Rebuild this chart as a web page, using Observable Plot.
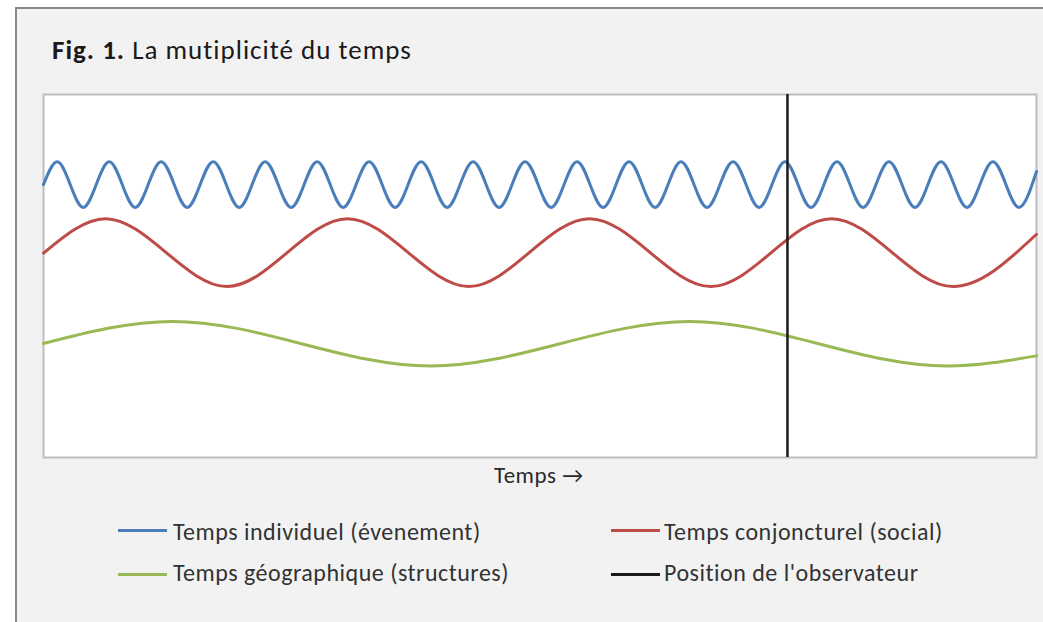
<!DOCTYPE html>
<html>
<head>
<meta charset="utf-8">
<script src="https://cdn.jsdelivr.net/npm/d3@7"></script>
<script src="https://cdn.jsdelivr.net/npm/@observablehq/plot@0.6"></script>
<style>
  body { margin: 0; background: #fff; }
  #wrap { position: relative; width: 1043px; height: 622px; overflow: hidden;
          font-family: Carlito, Lato, "Open Sans", sans-serif; }
  #panel { position: absolute; left: 15px; top: 7px; width: 1040px; height: 620px;
           background: #f2f2f2; border-left: 2px solid #8a8a8a; border-top: 2px solid #8a8a8a; }
  #chart { position: absolute; left: 0; top: 0; }
  .txt { position: absolute; white-space: nowrap; line-height: 1; }
  #title { left: 52px; top: 36px; font-size: 27px; letter-spacing: 1px; color: #1a1a1a; }
  #xlabel { left: 494px; top: 464px; font-size: 23px; letter-spacing: 0.5px; color: #2a2a2a; }
  .leg { font-size: 24px; letter-spacing: 0.5px; color: #333; }
  .sw { position: absolute; height: 3px; width: 49px; }
</style>
</head>
<body>
<div id="wrap">
  <div id="panel"></div>
  <div id="chart"></div>
  <div id="title" class="txt"><b>Fig. 1.</b> La mutiplicité du temps</div>
  <div id="xlabel" class="txt">Temps →</div>
  <div id="legend"></div>
</div>
<script>
// ---- Data (time in arbitrary units 0–100, value in arbitrary units 0–100) ----
const seriesNames = [
  "Temps individuel (évenement)",
  "Temps conjoncturel (social)",
  "Temps géographique (structures)",
  "Position de l'observateur"
];
const seriesColors = ["#4a7ebb", "#be4b48", "#98b954", "#1a1a1a"];

// Temps individuel: extrema
const blueT = [0, 1.38, 4.00, 6.62, 9.24, 11.85, 14.47, 17.09, 19.71, 22.32, 24.94,
  27.56, 30.18, 32.79, 35.41, 38.03, 40.65, 43.26, 45.88, 48.50, 51.12,
  53.73, 56.35, 58.97, 61.59, 64.20, 66.82, 69.44, 72.06, 74.67, 77.29,
  79.91, 82.53, 85.14, 87.76, 90.38, 93.00, 95.61, 98.23, 100];
const blueV = [75.2, 81.5, 68.9, 81.5, 68.9, 81.5, 68.9, 81.5, 68.9, 81.5, 68.9,
  81.5, 68.9, 81.5, 68.9, 81.5, 68.9, 81.5, 68.9, 81.5, 68.9,
  81.5, 68.9, 81.5, 68.9, 81.5, 68.9, 81.5, 68.9, 81.5, 68.9,
  81.5, 68.9, 81.5, 68.9, 81.5, 68.9, 81.5, 68.9, 78.8];

// Temps conjoncturel
const redT = [0, 6.24, 18.48, 30.61, 42.85, 54.98, 67.22, 79.36, 91.59, 100];
const redV = [56.3, 65.8, 47.1, 65.8, 47.1, 65.8, 47.1, 65.8, 47.1, 61.5];

// Temps géographique
const greenT = [0, 12.99, 38.97, 65.06, 91.04, 100];
const greenV = [31.4, 37.5, 25.2, 37.5, 25.2, 28.0];

// Position de l'observateur
const observerT = [74.92];

// ---- Build table ----
const lines = [
  ...blueT.map((t, i) => ({t, v: blueV[i], s: seriesNames[0]})),
  ...redT.map((t, i) => ({t, v: redV[i], s: seriesNames[1]})),
  ...greenT.map((t, i) => ({t, v: greenV[i], s: seriesNames[2]}))
];

const plot = Plot.plot({
  width: 1043,
  height: 622,
  marginLeft: 43,
  marginRight: 7,
  marginTop: 94,
  marginBottom: 165,
  style: { background: "transparent", overflow: "visible" },
  x: { domain: [0, 100], axis: null },
  y: { domain: [0, 100], axis: null },
  color: { domain: seriesNames, range: seriesColors },
  marks: [
    Plot.frame({ fill: "white", stroke: "#bdbdbd", strokeWidth: 2 }),
    Plot.line(lines, { x: "t", y: "v", z: "s", stroke: "s", strokeWidth: 3, curve: "monotone-x" }),
    Plot.ruleX(observerT, { stroke: seriesColors[3], strokeWidth: 2.5 })
  ]
});
document.getElementById("chart").appendChild(plot);

// ---- Legend ----
const legPos = [
  { sx: 118, tx: 173, y: 530, top: 520 },
  { sx: 611, tx: 664, y: 530, top: 520 },
  { sx: 118, tx: 173, y: 574, top: 561 },
  { sx: 611, tx: 664, y: 574, top: 561 }
];
const leg = document.getElementById("legend");
seriesNames.forEach((name, i) => {
  const p = legPos[i];
  const sw = document.createElement("div");
  sw.className = "sw";
  sw.style.left = p.sx + "px";
  sw.style.top = (p.y - 1.5) + "px";
  sw.style.background = seriesColors[i];
  leg.appendChild(sw);
  const tx = document.createElement("div");
  tx.className = "txt leg";
  tx.style.left = p.tx + "px";
  tx.style.top = p.top + "px";
  tx.textContent = name;
  leg.appendChild(tx);
});
</script>
</body>
</html>
